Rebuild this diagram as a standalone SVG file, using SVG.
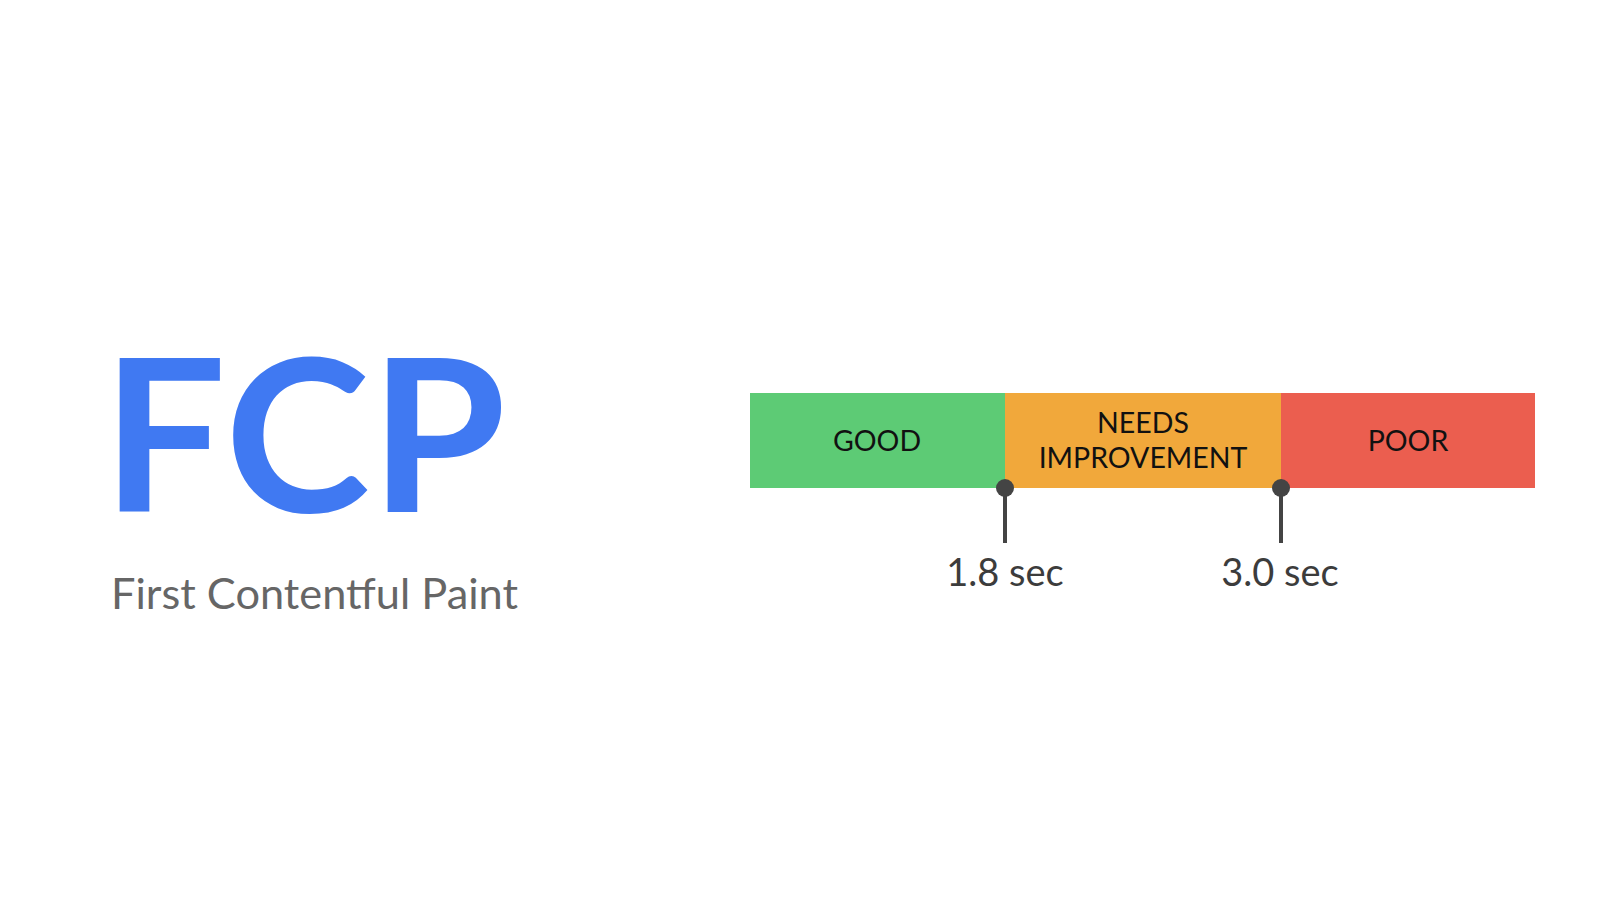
<svg xmlns="http://www.w3.org/2000/svg" width="1600" height="898" viewBox="0 0 1600 898">
<style>
.lbl{font-family:Lato,"Open Sans","Liberation Sans",sans-serif;font-size:28.5px;fill:#111;text-anchor:middle}
.val{font-family:Lato,"Open Sans","Liberation Sans",sans-serif;font-size:38px;fill:#3c3c3c;text-anchor:middle}
.pin{stroke:#444;stroke-width:4}
</style>
<rect width="1600" height="898" fill="#fff"/>
<g id="title">
<text x="102" y="512" font-family="Lato,'Liberation Sans',sans-serif" font-weight="700" font-size="212" fill="#4079f2" textLength="404" lengthAdjust="spacingAndGlyphs">FCP</text>
<text x="111" y="609" font-family="Lato,'Open Sans','Liberation Sans',sans-serif" font-size="43" fill="#666" textLength="407" lengthAdjust="spacingAndGlyphs">First Contentful Paint</text>
</g>
<g id="good">
<rect x="750" y="393" width="255" height="95" fill="#5dcb75"/>
<text class="lbl" x="877" y="451">GOOD</text>
</g>
<g id="needs">
<rect x="1005" y="393" width="276" height="95" fill="#f1a83b"/>
<text class="lbl" x="1143" y="433">NEEDS</text>
<text class="lbl" x="1143" y="468">IMPROVEMENT</text>
</g>
<g id="poor">
<rect x="1281" y="393" width="254" height="95" fill="#eb5e4f"/>
<text class="lbl" x="1408" y="451">POOR</text>
</g>
<g id="connectors">
<line class="pin" x1="1005" y1="488" x2="1005" y2="543"/>
<circle cx="1005" cy="488" r="9" fill="#444"/>
<line class="pin" x1="1281" y1="488" x2="1281" y2="543"/>
<circle cx="1281" cy="488" r="9" fill="#444"/>
</g>
<g id="t1"><text class="val" x="1005" y="586">1.8 sec</text></g>
<g id="t2"><text class="val" x="1280" y="586">3.0 sec</text></g>
</svg>
